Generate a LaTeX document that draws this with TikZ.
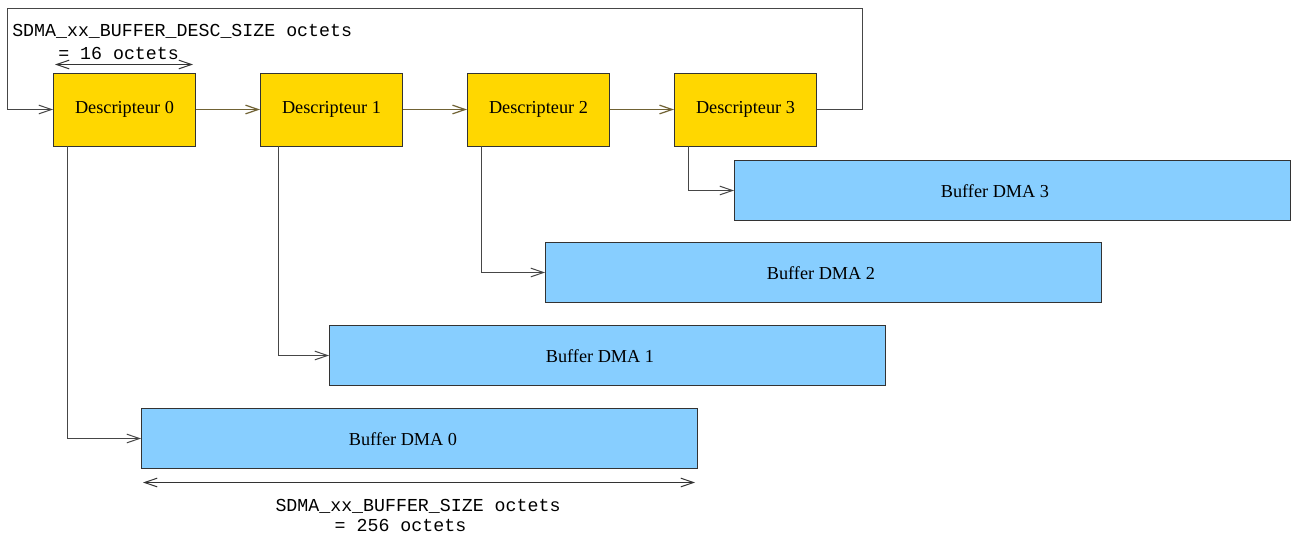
\documentclass[tikz,border=0pt]{standalone}
\usepackage{fontspec}
\setmainfont{Liberation Serif}
\setmonofont{Liberation Mono}
\usetikzlibrary{arrows.meta,calc}
\definecolor{descfill}{RGB}{255,215,0}
\definecolor{buffill}{RGB}{135,206,255}
\definecolor{linkcol}{RGB}{112,98,52}
\definecolor{wirecol}{RGB}{70,70,70}
\tikzset{
  descbox/.style={draw=black!80, fill=descfill, line width=0.7pt, inner sep=0pt,
    minimum width=106.5pt, minimum height=54.75pt, font=\fontsize{13.7}{16}\selectfont},
  bufbox/.style={draw=black!80, fill=buffill, line width=0.7pt, inner sep=0pt,
    minimum width=417pt, minimum height=45pt},
  buftext/.style={font=\fontsize{13.7}{16}\selectfont, inner sep=0pt},
  mono/.style={font=\fontsize{13.7}{16}\ttfamily, inner sep=0pt},
  tip/.style={-{Straight Barb[length=9.5pt,width=6.5pt]}},
  conn/.style={draw=wirecol, line width=0.75pt, tip},
  link/.style={draw=linkcol, line width=0.9pt, tip},
  dim/.style={draw=black!80, line width=0.75pt,
    {Straight Barb[length=9.5pt,width=6.5pt]}-{Straight Barb[length=9.5pt,width=6.5pt]}}
}
\begin{document}
\begin{tikzpicture}[x=0.75pt,y=-0.75pt]
\useasboundingbox (0,0) rectangle (1291,537);

% descriptor chain
\node[descbox] (d0) at (124.5,109.5) {Descripteur 0};
\node[descbox] (d1) at (331.5,109.5) {Descripteur 1};
\node[descbox] (d2) at (538.5,109.5) {Descripteur 2};
\node[descbox] (d3) at (745.5,109.5) {Descripteur 3};

% DMA buffers
\node[bufbox] (b3) at (1012.5,190.5) {};
\node[bufbox] (b2) at (823.5,272.5) {};
\node[bufbox] (b1) at (607.5,355.5) {};
\node[bufbox] (b0) at (419.5,438.5) {};
\node[buftext] (b3t) at (995,191) {Buffer DMA 3};
\node[buftext] (b2t) at (821,273.5) {Buffer DMA 2};
\node[buftext] (b1t) at (600,356.5) {Buffer DMA 1};
\node[buftext] (b0t) at (403,439) {Buffer DMA 0};

% links between descriptors
\draw[link] (d0.east) -- (d1.west);
\draw[link] (d1.east) -- (d2.west);
\draw[link] (d2.east) -- (d3.west);

% wrap-around from the last descriptor back to the first
\coordinate (tr) at (862.5,8.5);
\coordinate (tl) at (7.5,8.5);
\draw[conn] (d3.east) -| (tr) -- (tl) |- (d0.west);

% descriptor -> buffer pointers
\draw[conn] ($(d0.south west)+(14,0)$) |- (b0.west);
\draw[conn] ($(d1.south west)+(18,0)$) |- (b1.west);
\draw[conn] ($(d2.south west)+(14,0)$) |- (b2.west);
\draw[conn] ($(d3.south west)+(14,0)$) |- (b3.west);

% descriptor size
\node[mono, anchor=base west] (dsz) at (12,36) {SDMA\_xx\_BUFFER\_DESC\_SIZE octets};
\node[mono, anchor=base west] (dsz2) at (58,59) {= 16 octets};
\coordinate (dl) at (55,64.5);
\coordinate (dr) at (193,64.5);
\draw[dim] (dl) -- (dr);

% buffer size
\coordinate (bl) at (143,482.5);
\coordinate (br) at (695,482.5);
\draw[dim] (bl) -- (br);
\node[mono, anchor=base] (bsz) at (418,511) {SDMA\_xx\_BUFFER\_SIZE octets};
\node[mono, anchor=base] (bsz2) at (400.5,531) {= 256 octets};
\end{tikzpicture}
\end{document}
